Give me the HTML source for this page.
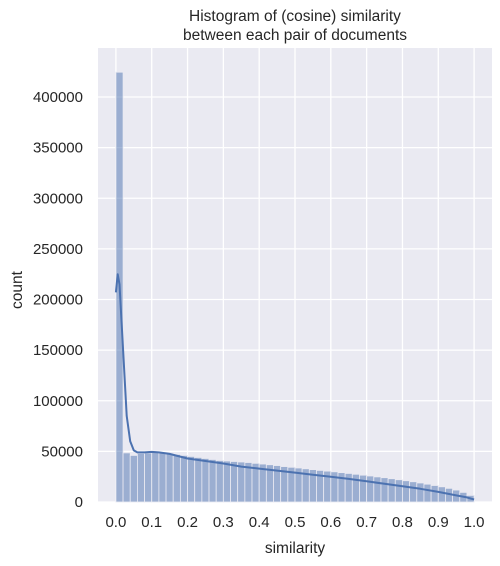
<!DOCTYPE html>
<html><head><meta charset="utf-8"><style>
body{margin:0;background:#fff;font-family:"Liberation Sans",Arial,sans-serif}
svg text{font-family:"Liberation Sans",Arial,sans-serif;fill:#262626}
</style></head><body>
<svg id="c" width="500" height="561" xmlns="http://www.w3.org/2000/svg"></svg>
<script>
const counts=[424500,48500,46000,48000,48500,48800,48500,48000,47000,46000,45000,44000,43000,42000,41000,40500,40000,39500,39000,38200,37500,36800,36000,35000,34300,33600,32800,32000,31200,30500,29800,29000,28200,27400,26500,25700,24800,24000,23000,22000,21000,20000,18800,17600,16300,15000,13500,11800,9500,6500];
const kdeX=[0,0.005,0.01,0.02,0.03,0.04,0.05,0.06,0.08,0.1,0.12,0.15,0.2,0.25,0.3,0.35,0.4,0.45,0.5,0.55,0.6,0.65,0.7,0.75,0.8,0.85,0.9,0.95,0.98,1.0];
const kdeY=[207000,225000,215000,150000,85000,60000,51000,49000,49000,49500,49000,47500,43000,40500,38000,35000,33000,31000,29000,27000,25000,22800,20500,18000,15500,13000,10000,6500,4500,2500];
const xTicks=[0,0.1,0.2,0.3,0.4,0.5,0.6,0.7,0.8,0.9,1.0];
const yTicks=[0,50000,100000,150000,200000,250000,300000,350000,400000];
const L=98,R=492,T=48,B=502;
const x=v=>L+(v+0.05)/1.1*(R-L);
const y=v=>502-v*(502-97)/400000;
const s=document.getElementById('c'),NS='http://www.w3.org/2000/svg';
function mk(t,a,p){const e=document.createElementNS(NS,t);for(const k in a)e.setAttribute(k,a[k]);(p||s).appendChild(e);return e;}
const bg=mk('rect',{x:L,y:T,width:R-L,height:B-T,fill:'#eaeaf2'});

xTicks.forEach(v=>{const g=mk('line',{x1:x(v),x2:x(v),y1:T,y2:B,stroke:'#fff','stroke-width':1.3});

const t=mk('text',{x:x(v),y:527,'text-anchor':'middle','font-size':15});t.textContent=v.toFixed(1);
});
yTicks.forEach(v=>{const g=mk('line',{x1:L,x2:R,y1:y(v),y2:y(v),stroke:'#fff','stroke-width':1.3});

const t=mk('text',{x:L-15,y:y(v)+5,'text-anchor':'end','font-size':15});t.textContent=v;
});
counts.forEach((c,i)=>{const r=mk('rect',{x:x(i*0.02),y:y(c),width:x((i+1)*0.02)-x(i*0.02),height:y(0)-y(c),fill:'rgba(76,114,176,0.5)',stroke:'#eaeaf2','stroke-width':0.8});
});
const p=mk('path',{d:kdeX.map((v,i)=>(i?'L':'M')+x(v).toFixed(1)+','+y(kdeY[i]).toFixed(1)).join(''),fill:'none',stroke:'#4c72b0','stroke-width':2,'stroke-linejoin':'round'});

const t1=mk('text',{x:295,y:21,'text-anchor':'middle','font-size':15.5});t1.textContent='Histogram of (cosine) similarity';

const t2=mk('text',{x:295,y:40,'text-anchor':'middle','font-size':15.5});t2.textContent='between each pair of documents';

const xl=mk('text',{x:295,y:553,'text-anchor':'middle','font-size':15.5});xl.textContent='similarity';

const yl=mk('text',{x:22,y:290,'text-anchor':'middle','font-size':15.5,transform:'rotate(-90 22 290)'});yl.textContent='count';

</script>
</body></html>
